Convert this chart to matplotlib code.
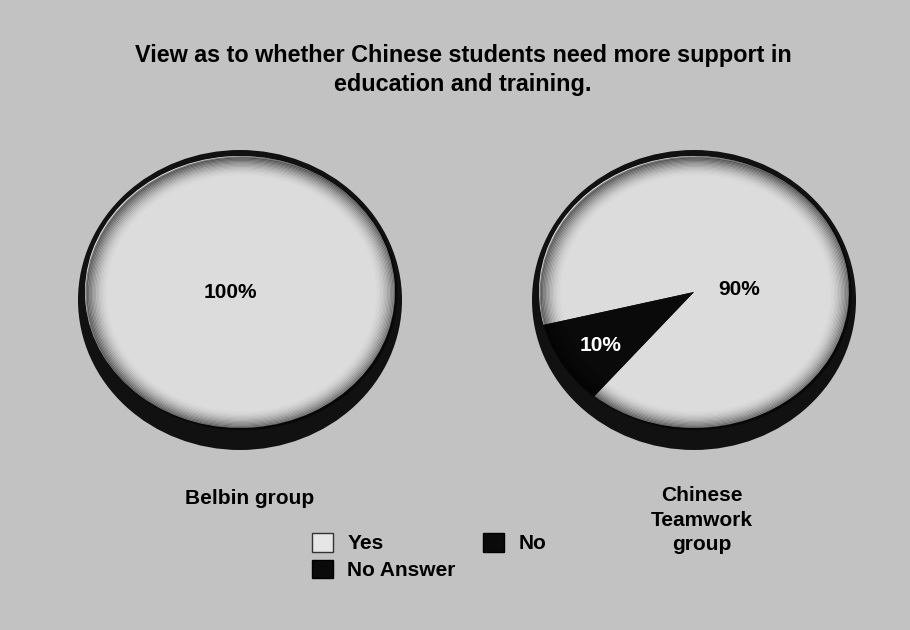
import matplotlib.pyplot as plt
from matplotlib.patches import Ellipse, Patch

plt.rcParams['font.family'] = ['Liberation Sans', 'DejaVu Sans']

# survey answers, percent of each group
categories = ['Yes', 'No', 'No Answer']
groups = ['Belbin group', 'Chinese\nTeamwork\ngroup']
belbin = [100, 0, 0]
chinese = [90, 10, 0]
title = 'View as to whether Chinese students need more support in\neducation and training.'

colors = {'Yes': '#dcdcdc', 'No': '#0a0a0a', 'No Answer': '#0a0a0a'}
label_colors = {'Yes': 'black', 'No': 'white', 'No Answer': 'white'}

W, H = 910, 630
fig = plt.figure(figsize=(W / 100, H / 100), dpi=100, facecolor='#c2c2c2')

fig.text(463 / W, 1 - 70 / H, title, ha='center', va='center',
         fontsize=16.8, fontweight='bold', linespacing=1.35)


def draw_pie(x0, values, startangle, label_spots, name, name_xy):
    # axes box = outer rim of the tilted pie, in pixels
    top, bottom, left, right = 150, 450, x0, x0 + 324
    ax = fig.add_axes([left / W, 1 - bottom / H, (right - left) / W, (bottom - top) / H])
    face_cy = 292  # centre of the top face
    rx, ry = 155, 136  # half axes of the top face

    cats = [c for c, v in zip(categories, values) if v > 0]
    vals = [v for v in values if v > 0]
    ax.pie(vals, colors=[colors[c] for c in cats], startangle=startangle,
           counterclock=True, radius=1.0, wedgeprops=dict(edgecolor='none', zorder=2))
    ax.set_aspect('auto')
    ax.set_xlim(-(right - left) / 2 / rx, (right - left) / 2 / rx)
    ax.set_ylim(-(bottom - face_cy) / ry, (face_cy - top) / ry)
    ax.axis('off')

    # dark side / rim
    ax.add_patch(Ellipse((0, -(300 - face_cy) / ry), (right - left) / rx,
                         (bottom - top) / ry, facecolor='#111111', edgecolor='none', zorder=0))

    # soft shading toward the edge of the top face
    n = 16
    for i in range(n):
        s = 1.0 - i * 0.009
        a = 0.45 * (1 - i / n) ** 2
        ax.add_patch(Ellipse((0.01, -0.01), 2 * s, 2 * s, facecolor='none',
                             edgecolor='black', linewidth=1.4, alpha=a, zorder=3))

    for c, v, (lx, ly) in zip(cats, vals, label_spots):
        ax.text(lx, ly, f'{v}%', ha='center', va='center', fontsize=15,
                fontweight='bold', color=label_colors[c], zorder=5)

    fig.text(name_xy[0] / W, 1 - name_xy[1] / H, name, ha='center', va='center',
             fontsize=15, fontweight='bold', linespacing=1.35)


draw_pie(78, belbin, 140, [(-0.06, 0.0)], groups[0], (250, 499))
draw_pie(532, chinese, 230, [(0.29, 0.02), (-0.6, -0.39)], groups[1], (702, 520))

handles = [Patch(facecolor='#e6e6e6', edgecolor='#333333', linewidth=1, label='Yes'),
           Patch(facecolor=colors['No Answer'], edgecolor='black', label='No Answer'),
           Patch(facecolor=colors['No'], edgecolor='black', label='No')]
leg = fig.legend(handles=handles, ncol=2, loc='upper left',
                 bbox_to_anchor=(312 / W, 1 - 533 / H), frameon=False,
                 prop=dict(size=15, weight='bold'), handlelength=1.0,
                 handleheight=1.0, handletextpad=0.7, columnspacing=1.3,
                 labelspacing=0.3, borderpad=0, borderaxespad=0)

fig.savefig('out.png', dpi=100, facecolor=fig.get_facecolor())
